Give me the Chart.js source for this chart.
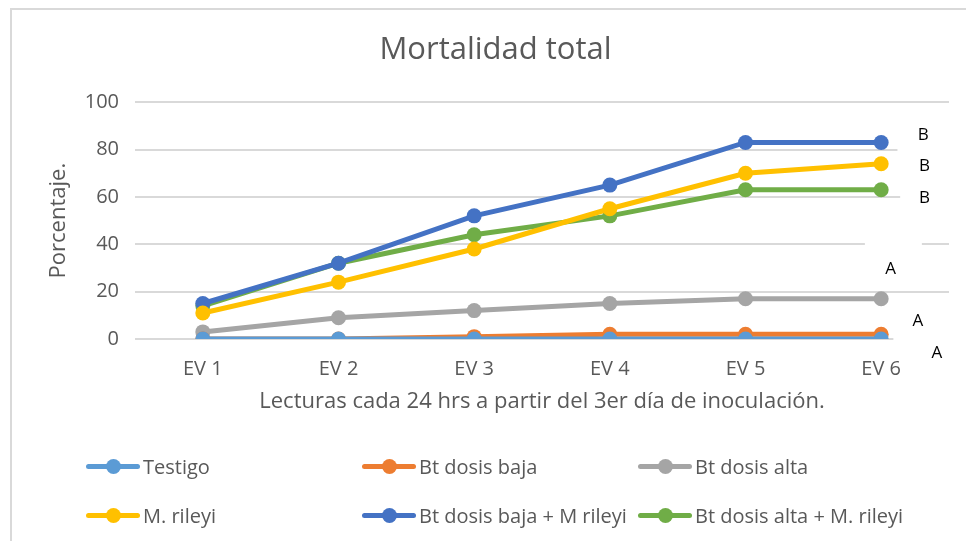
<!DOCTYPE html>
<html>
<head>
<meta charset="utf-8">
<script src="https://cdn.jsdelivr.net/npm/chart.js@4"></script>
<style>
  body { margin: 0; background: #fff; }
  #wrap { position: relative; width: 966px; height: 541px; overflow: hidden; }
  #frame { position: absolute; left: 10px; top: 8px; width: 980px; height: 560px;
           border-left: 2px solid #d9d9d9; border-top: 2px solid #d9d9d9; }
  canvas { position: absolute; left: 0; top: 0; }
  #legend { position: absolute; left: 86px; top: 452px; width: 880px;
            display: grid; grid-template-columns: 276px 276px 300px; row-gap: 21px;
            font-family: "Open Sans", sans-serif; font-size: 20px; color: #595959; }
  .item { display: flex; align-items: center; height: 28px; white-space: nowrap; }
  .sw { position: relative; width: 54px; height: 15px; margin-right: 3px; flex: none; }
  .sw .ln { position: absolute; left: 0; right: 0; top: 5px; height: 5px; border-radius: 2.5px; }
  .sw .dt { position: absolute; left: 20px; top: 0; width: 15px; height: 15px; border-radius: 50%; }
</style>
</head>
<body>
<div id="wrap">
  <div id="frame"></div>
  <canvas id="chart" width="966" height="541"></canvas>
  <div id="legend"></div>
</div>
<script>
// Data
const categories = ['EV 1', 'EV 2', 'EV 3', 'EV 4', 'EV 5', 'EV 6'];
const seriesNames = ['Testigo', 'Bt dosis baja', 'Bt dosis alta', 'M. rileyi',
  'Bt dosis baja + M rileyi', 'Bt dosis alta + M. rileyi'];
const testigo = [0, 0, 0, 0, 0, 0];
const btBaja = [0, 0, 1, 2, 2, 2];
const btAlta = [3, 9, 12, 15, 17, 17];
const mRileyi = [11, 24, 38, 55, 70, 74];
const btBajaRileyi = [15, 32, 52, 65, 83, 83];
const btAltaRileyi = [14, 32, 44, 52, 63, 63];
const colors = ['#5B9BD5', '#ED7D31', '#A5A5A5', '#FFC000', '#4472C4', '#70AD47'];
const yTicks = [0, 20, 40, 60, 80, 100];

// significance letters to the right of the last point: [category index, value]
const letters = ['B', 'B', 'B', 'A', 'A', 'A'];
const letterAt = [[5.31, 86], [5.32, 73], [5.32, 59.5], [5.07, 29.5], [5.27, 7.6], [5.41, -5.9]];
// white text boxes that hide bits of the gridlines: [cat from, cat to, value low, value high]
const blankBoxes = [[5.12, 5.7, 76, 92], [5.14, 5.7, 55, 65], [4.88, 5.3, 38, 42], [5.09, 5.7, -8, 2]];

const allSeries = [testigo, btBaja, btAlta, mRileyi, btBajaRileyi, btAltaRileyi];
const font = '"Open Sans", sans-serif';
const grey = '#595959';

const letterPlugin = {
  id: 'letters',
  beforeDatasetsDraw(chart) {
    const { ctx, scales: { x, y } } = chart;
    const step = x.getPixelForValue(1) - x.getPixelForValue(0);
    const x0 = x.getPixelForValue(0);
    ctx.save();
    ctx.fillStyle = '#fff';
    blankBoxes.forEach(b => {
      const l = x0 + b[0] * step, r = x0 + b[1] * step;
      const t = y.getPixelForValue(b[3]), btm = y.getPixelForValue(b[2]);
      ctx.fillRect(l, t, r - l, btm - t);
    });
    ctx.restore();
  },
  afterDraw(chart) {
    const { ctx, scales: { x, y } } = chart;
    const step = x.getPixelForValue(1) - x.getPixelForValue(0);
    const x0 = x.getPixelForValue(0);
    ctx.save();
    ctx.font = '17px ' + font;
    ctx.fillStyle = '#000';
    ctx.textAlign = 'center';
    ctx.textBaseline = 'middle';
    letters.forEach((t, i) => {
      ctx.fillText(t, x0 + letterAt[i][0] * step, y.getPixelForValue(letterAt[i][1]));
    });
    ctx.restore();
  }
};

const datasets = allSeries.map((d, i) => ({
  label: seriesNames[i],
  data: d,
  borderColor: colors[i],
  backgroundColor: colors[i],
  borderWidth: 5,
  pointRadius: 7.5,
  pointHoverRadius: 7.5,
  pointBorderWidth: 0,
  tension: 0
}));

new Chart(document.getElementById('chart'), {
  type: 'line',
  data: { labels: categories, datasets: datasets },
  options: {
    responsive: false,
    animation: false,
    layout: { padding: { left: 42, right: 17, top: 10, bottom: 122 } },
    plugins: {
      legend: { display: false },
      tooltip: { enabled: false },
      title: {
        display: true,
        text: 'Mortalidad total',
        color: grey,
        font: { family: font, size: 31, weight: 'normal' },
        padding: { top: 22, bottom: 33 }
      }
    },
    scales: {
      x: {
        offset: true,
        grid: { display: false },
        border: { display: false },
        ticks: { color: grey, font: { family: font, size: 20 }, padding: 10 },
        title: {
          display: true,
          text: 'Lecturas cada 24 hrs a partir del 3er día de inoculación.',
          color: grey,
          font: { family: font, size: 22 },
          padding: { top: 4 }
        },
        afterFit(scale) { scale.height = 80; }
      },
      y: {
        min: 0,
        max: 100,
        afterBuildTicks(scale) { scale.ticks = yTicks.map(v => ({ value: v })); },
        grid: { color: '#d9d9d9', lineWidth: 2, drawTicks: false },
        border: { display: false },
        ticks: { color: grey, font: { family: font, size: 20 }, padding: 16 },
        title: {
          display: true,
          text: 'Porcentaje.',
          color: grey,
          font: { family: font, size: 22 },
          padding: { bottom: 0 }
        },
        afterFit(scale) { scale.width = 93; }
      }
    }
  },
  plugins: [letterPlugin]
});

// legend as real text
const legend = document.getElementById('legend');
seriesNames.forEach((n, i) => {
  const it = document.createElement('div');
  it.className = 'item';
  it.innerHTML = '<span class="sw"><span class="ln" style="background:' + colors[i] +
    '"></span><span class="dt" style="background:' + colors[i] + '"></span></span>';
  it.appendChild(document.createTextNode(n));
  legend.appendChild(it);
});
</script>
</body>
</html>
